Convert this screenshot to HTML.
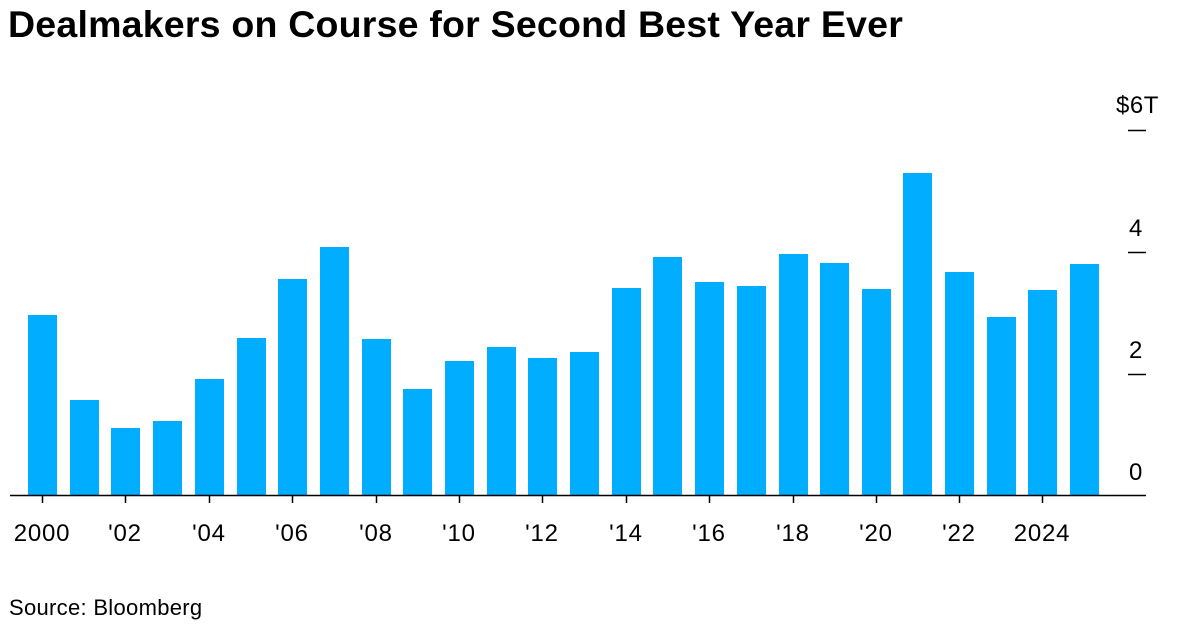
<!DOCTYPE html>
<html><head><meta charset="utf-8"><style>
body{margin:0;background:#fff;width:1179px;height:624px;overflow:hidden;font-family:"Liberation Sans",sans-serif}
</style></head><body>
<svg width="1179" height="624" xmlns="http://www.w3.org/2000/svg" font-family="Liberation Sans, sans-serif">
<text x="8" y="37" font-size="37" font-weight="bold" fill="#000" letter-spacing="0.2" textLength="895" lengthAdjust="spacingAndGlyphs">Dealmakers on Course for Second Best Year Ever</text>
<g fill="#00adff">
<rect x="28" y="315" width="29" height="180"/>
<rect x="70" y="400" width="29" height="95"/>
<rect x="111" y="428" width="29" height="67"/>
<rect x="153" y="421" width="29" height="74"/>
<rect x="195" y="379" width="29" height="116"/>
<rect x="237" y="338" width="29" height="157"/>
<rect x="278" y="279" width="29" height="216"/>
<rect x="320" y="247" width="29" height="248"/>
<rect x="362" y="339" width="29" height="156"/>
<rect x="403" y="389" width="29" height="106"/>
<rect x="445" y="361" width="29" height="134"/>
<rect x="487" y="347" width="29" height="148"/>
<rect x="528" y="358" width="29" height="137"/>
<rect x="570" y="352" width="29" height="143"/>
<rect x="612" y="288" width="29" height="207"/>
<rect x="653" y="257" width="29" height="238"/>
<rect x="695" y="282" width="29" height="213"/>
<rect x="737" y="286" width="29" height="209"/>
<rect x="779" y="254" width="29" height="241"/>
<rect x="820" y="263" width="29" height="232"/>
<rect x="862" y="289" width="29" height="206"/>
<rect x="903" y="173" width="29" height="322"/>
<rect x="945" y="272" width="29" height="223"/>
<rect x="987" y="317" width="29" height="178"/>
<rect x="1028" y="290" width="29" height="205"/>
<rect x="1070" y="264" width="29" height="231"/>
</g>
<line x1="10" y1="495.5" x2="1146" y2="495.5" stroke="#000" stroke-width="1.5"/>
<g stroke="#000" stroke-width="1.5">
<line x1="42.5" y1="495" x2="42.5" y2="503"/><line x1="125.5" y1="495" x2="125.5" y2="503"/>
<line x1="209.5" y1="495" x2="209.5" y2="503"/><line x1="292.5" y1="495" x2="292.5" y2="503"/>
<line x1="376.5" y1="495" x2="376.5" y2="503"/><line x1="459.5" y1="495" x2="459.5" y2="503"/>
<line x1="542.5" y1="495" x2="542.5" y2="503"/><line x1="626.5" y1="495" x2="626.5" y2="503"/>
<line x1="709.5" y1="495" x2="709.5" y2="503"/><line x1="793.5" y1="495" x2="793.5" y2="503"/>
<line x1="876.5" y1="495" x2="876.5" y2="503"/><line x1="959.5" y1="495" x2="959.5" y2="503"/>
<line x1="1042.5" y1="495" x2="1042.5" y2="503"/>
<line x1="1128" y1="130.5" x2="1146" y2="130.5"/><line x1="1128" y1="252.5" x2="1146" y2="252.5"/>
<line x1="1128" y1="374.5" x2="1146" y2="374.5"/>
</g>
<g font-size="24" fill="#000" text-anchor="middle" letter-spacing="0.8">
<text x="42" y="541">2000</text><text x="125" y="541">'02</text><text x="209" y="541">'04</text>
<text x="292" y="541">'06</text><text x="376" y="541">'08</text><text x="459" y="541">'10</text>
<text x="542" y="541">'12</text><text x="626" y="541">'14</text><text x="709" y="541">'16</text>
<text x="793" y="541">'18</text><text x="876" y="541">'20</text><text x="959" y="541">'22</text>
<text x="1042" y="541">2024</text>
</g>
<g font-size="24" fill="#000" letter-spacing="0.5">
<text x="1116" y="113">$6T</text><text x="1129" y="236">4</text><text x="1129" y="358">2</text><text x="1129" y="480">0</text>
</g>
<text x="9" y="615" font-size="22" fill="#000" letter-spacing="0.3">Source: Bloomberg</text>
</svg>
</body></html>
